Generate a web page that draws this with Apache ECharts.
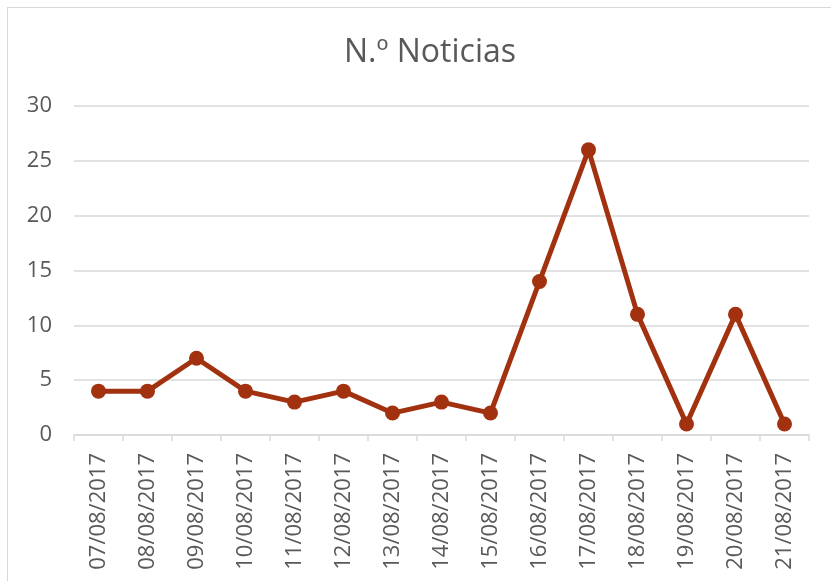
<!DOCTYPE html>
<html><head><meta charset="utf-8">
<script src="https://cdn.jsdelivr.net/npm/echarts@6/dist/echarts.min.js"></script>
<style>
html,body{margin:0;padding:0;background:#fff;}
#frame{position:absolute;left:7px;top:7px;width:830px;height:580px;border:1px solid #d9d9d9;box-sizing:border-box;}
#c{position:absolute;left:0;top:0;width:831px;height:581px;}
</style></head>
<body><div id="frame"></div><div id="c"></div>
<script>
const categories = ["07/08/2017","08/08/2017","09/08/2017","10/08/2017","11/08/2017","12/08/2017","13/08/2017","14/08/2017","15/08/2017","16/08/2017","17/08/2017","18/08/2017","19/08/2017","20/08/2017","21/08/2017"];
const noticias = [4,4,7,4,3,4,2,3,2,14,26,11,1,11,1];
const titleText = "N.º Noticias";
const chart = echarts.init(document.getElementById('c'));
chart.setOption({
  animation:false,
  title:{text:titleText,top:32,left:425,textAlign:'center',textStyle:{fontFamily:'Open Sans',fontSize:32,fontWeight:'normal',color:'#595959'}},
  grid:{left:74,right:22,top:106,bottom:146},
  xAxis:{type:'category',data:categories,boundaryGap:true,
    axisLine:{lineStyle:{color:'#d9d9d9',width:1.5}},
    axisTick:{show:true,length:6,lineStyle:{color:'#d9d9d9',width:1.5}},
    axisLabel:{rotate:90,margin:18,fontFamily:'Open Sans',fontSize:22,color:'#595959'}},
  yAxis:{type:'value',min:0,max:30,interval:5,
    axisLine:{show:false},axisTick:{show:false},
    splitLine:{lineStyle:{color:'#d9d9d9',width:1.5}},
    axisLabel:{margin:22,fontFamily:'Open Sans',fontSize:22,color:'#595959'}},
  series:[{type:'line',data:noticias,symbol:'circle',symbolSize:15,
    lineStyle:{color:'#A2320F',width:5},itemStyle:{color:'#A2320F'}}]
});
</script></body></html>
